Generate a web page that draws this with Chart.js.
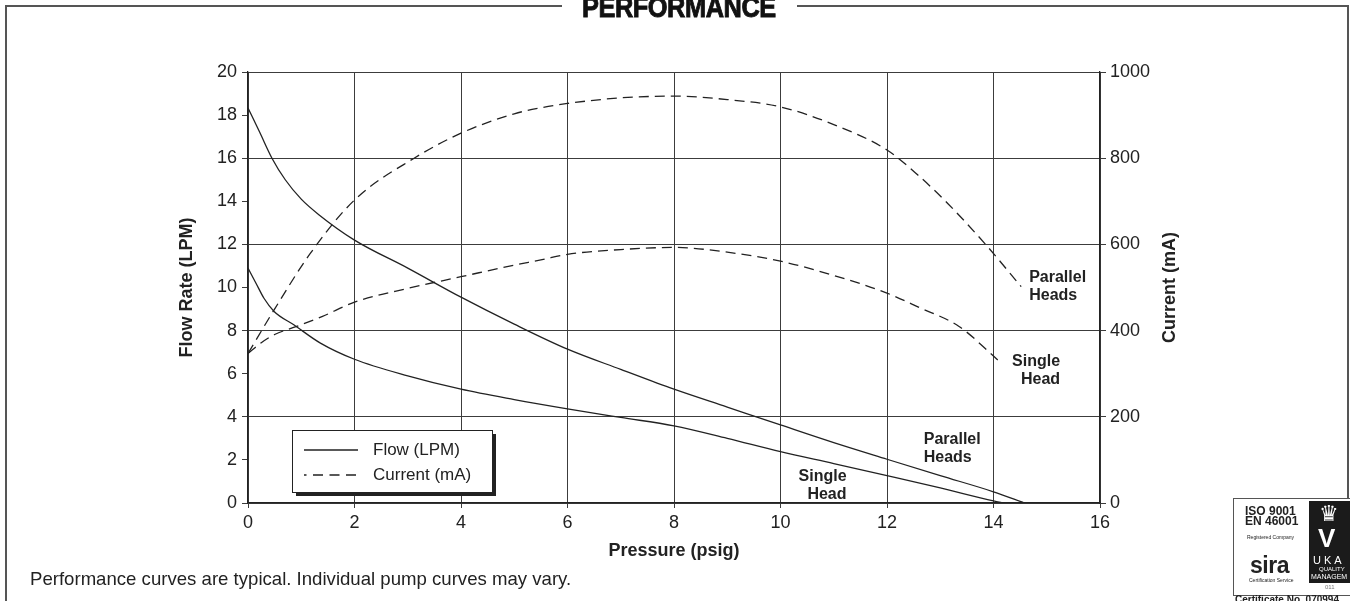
<!DOCTYPE html>
<html>
<head>
<meta charset="utf-8">
<script src="https://cdn.jsdelivr.net/npm/chart.js@4"></script>
<style>
    body { margin: 0; background: #fff; }
    #page { position: relative; width: 1350px; height: 601px; overflow: hidden; font-family: "Liberation Sans", Arial, sans-serif; color: #222; }
    #chart { position: absolute; left: 0; top: 0; }
    .rule { position: absolute; background: #555; }
    #title { position: absolute; left: 582px; top: -9px; font: bold 29px "Liberation Sans", Arial, sans-serif; white-space: nowrap; transform-origin: 0 0; letter-spacing: -0.5px; -webkit-text-stroke: 0.9px #111; color: #111; }
    #note { position: absolute; left: 30px; top: 570px; font-size: 18.6px; line-height: 18.6px; white-space: nowrap; }
    #logo { position: absolute; left: 1233px; top: 498px; width: 130px; height: 96px; border: 1px solid #555; background: #fff; }
    #logo div { position: absolute; white-space: nowrap; }
    #cert { position: absolute; left: 1235px; top: 594px; font: bold 10px "Liberation Sans", Arial, sans-serif; white-space: nowrap; }
</style>
</head>
<body>
<div id="page">
    <canvas id="chart" width="1350" height="601"></canvas>
    <div class="rule" style="left:5px; top:5px; width:557px; height:1.5px"></div>
    <div class="rule" style="left:797px; top:5px; width:552px; height:1.5px"></div>
    <div class="rule" style="left:5px; top:5px; width:1.5px; height:596px"></div>
    <div class="rule" style="left:1347px; top:5px; width:1.5px; height:493px"></div>
    <div id="title">PERFORMANCE</div>
    <div id="note">Performance curves are typical. Individual pump curves may vary.</div>
    <div id="logo">
        <div style="left:11px; top:8px; font: bold 12px/9.5px 'Liberation Sans', Arial; ">ISO 9001<br>EN 46001</div>
        <div style="left:13px; top:35px; font-size:5px;">Registered Company</div>
        <div style="left:16px; top:53px; font: bold 23px 'Liberation Sans', Arial; letter-spacing:-0.5px;">sira</div>
        <div style="left:15px; top:78px; font-size:5px;">Certification Service</div>
        <div style="left:75px; top:2px; width:60px; height:82px; background:#1b1b1b;"></div>
        <div style="left:85px; top:2px; color:#fff; font-size:22px;">&#9819;</div>
        <div style="left:84px; top:24px; color:#fff; font: bold 26px 'Liberation Sans', Arial;">V</div>
        <div style="left:79px; top:55px; color:#fff; font-size:11px; letter-spacing:3px;">UKA</div>
        <div style="left:85px; top:67px; color:#fff; font-size:6px;">QUALITY</div>
        <div style="left:77px; top:74px; color:#fff; font-size:7px;">MANAGEM</div>
        <div style="left:91px; top:85px; color:#777; font-size:6px;">011</div>
    </div>
    <div id="cert">Certificate No. 070994</div>
</div>
<script>
// flow rate curves (LPM against psig)
const flowParallelP = [ 0, 0.22, 0.45, 0.7, 1, 1.33, 2, 3, 4, 5, 6, 7, 8, 9, 10, 11, 12, 13, 14, 14.58 ];
const flowParallelLpm = [ 18.33, 17.2, 16.0, 15.0, 14.1, 13.38, 12.2, 10.9, 9.55, 8.3, 7.14, 6.2, 5.28, 4.45, 3.62, 2.8, 2.03, 1.27, 0.52, 0 ];
const flowSingleP = [ 0, 0.15, 0.3, 0.49, 0.86, 1.36, 2, 3, 4, 5, 6, 7, 8, 9, 10, 11, 12, 13, 14, 14.2 ];
const flowSingleLpm = [ 10.9, 10.2, 9.5, 8.89, 8.27, 7.42, 6.67, 5.9, 5.28, 4.8, 4.37, 3.97, 3.58, 3.0, 2.38, 1.83, 1.27, 0.7, 0.1, 0 ];

// current curves (mA against psig)
const currentParallelP = [ 0, 0.49, 1.17, 2, 3.12, 4, 5, 5.5, 6, 7, 8, 9, 10, 11, 12, 12.58, 13.14, 13.83, 14.52 ];
const currentParallelMa = [ 347, 448, 579, 703, 800, 858, 903, 917, 927, 940, 944, 936, 919, 878, 819, 761, 695, 603, 502 ];
const currentSingleP = [ 0, 0.25, 0.5, 0.9, 1.4, 2, 3, 4, 5, 5.5, 6, 7, 8, 9, 10, 11, 12, 12.58, 13.36, 14.08 ];
const currentSingleMa = [ 347, 372, 391, 409, 433, 466, 498, 525, 552, 564, 577, 588, 593, 582, 561, 528, 487, 455, 409, 332 ];

// axis ticks
const pressureTicks = [ 0, 2, 4, 6, 8, 10, 12, 14, 16 ];
const flowTicks = [ 0, 2, 4, 6, 8, 10, 12, 14, 16, 18, 20 ];
const currentTicks = [ 0, 200, 400, 600, 800, 1000 ];

// curve labels
const curveLabels = [ [ 'Parallel', 'Heads' ], [ 'Single', 'Head' ], [ 'Parallel', 'Heads' ], [ 'Single', 'Head' ] ];
const labelSpots = [
    { x: 14.67, y: 10.45, align: 'left' },
    { x: 15.25, y: 6.55, align: 'right' },
    { x: 12.69, y: 2.93, align: 'left' },
    { x: 11.24, y: 1.22, align: 'right' }
];

const INK = '#222';
const GRID = '#3c3c3c';
const FONT = '"Liberation Sans", Arial, sans-serif';

function pairs( xs, ys )
{
    return xs.map( ( v, i ) => ( { x: v, y: ys[ i ] } ) );
}

function curve( data, axis, dashed )
{
    return {
        data: data,
        yAxisID: axis,
        borderColor: INK,
        borderWidth: 1.3,
        borderDash: dashed ? [ 10, 6 ] : [],
        pointRadius: 0,
        fill: false,
        cubicInterpolationMode: 'monotone'
    };
}

function fixTicks( list )
{
    return function ( scale ) {
        scale.ticks = list.map( v => ( { value: v } ) );
    };
}

const plain = v => String( v );

const overlay = {
    id: 'overlay',
    afterDraw( chart )
    {
        const ctx = chart.ctx;
        const area = chart.chartArea;
        const x = chart.scales.x;
        const y = chart.scales.y;
        ctx.save();
        ctx.fillStyle = INK;

        // axis titles
        ctx.font = 'bold 18px ' + FONT;
        ctx.textAlign = 'center';
        ctx.textBaseline = 'middle';
        ctx.fillText( 'Pressure (psig)', ( area.left + area.right ) / 2, area.bottom + 48 );
        const midY = ( area.top + area.bottom ) / 2;
        [ [ 'Flow Rate (LPM)', area.left - 61 ], [ 'Current (mA)', area.right + 70 ] ].forEach( t => {
            ctx.save();
            ctx.translate( t[ 1 ], midY );
            ctx.rotate( -Math.PI / 2 );
            ctx.fillText( t[ 0 ], 0, 0 );
            ctx.restore();
        } );

        // curve labels
        ctx.font = 'bold 16px ' + FONT;
        curveLabels.forEach( ( lines, i ) => {
            const s = labelSpots[ i ];
            ctx.textAlign = s.align;
            lines.forEach( ( line, k ) => {
                ctx.fillText( line, x.getPixelForValue( s.x ), y.getPixelForValue( s.y ) + k * 17.5 );
            } );
        } );

        // legend box with shadow
        const lx = area.left + 44, ly = area.bottom - 73, lw = 200, lh = 62;
        ctx.fillStyle = INK;
        ctx.fillRect( lx + 4, ly + 4, lw, lh );
        ctx.fillStyle = '#fff';
        ctx.fillRect( lx, ly, lw, lh );
        ctx.strokeStyle = INK;
        ctx.lineWidth = 1;
        ctx.strokeRect( lx + 0.5, ly + 0.5, lw, lh );
        ctx.lineWidth = 1.5;
        [ [ 'Flow (LPM)', [] ], [ 'Current (mA)', [ 10, 6.5 ] ] ].forEach( ( e, k ) => {
            const ey = ly + 20 + k * 25;
            ctx.setLineDash( e[ 1 ] );
            ctx.lineDashOffset = k ? 7.5 : 0;
            ctx.beginPath();
            ctx.moveTo( lx + 12, ey );
            ctx.lineTo( lx + 66, ey );
            ctx.stroke();
            ctx.setLineDash( [] );
            ctx.font = '17px ' + FONT;
            ctx.textAlign = 'left';
            ctx.fillStyle = INK;
            ctx.fillText( e[ 0 ], lx + 81, ey );
        } );
        ctx.restore();
    }
};

document.addEventListener( 'DOMContentLoaded', function ()
{
    // squeeze the heading into its slot
    const title = document.getElementById( 'title' );
    title.style.transform = 'scaleX(' + ( 194 / title.offsetWidth ) + ')';

    new Chart( document.getElementById( 'chart' ), {
        type: 'line',
        data: {
            datasets: [
                curve( pairs( flowParallelP, flowParallelLpm ), 'y', false ),
                curve( pairs( flowSingleP, flowSingleLpm ), 'y', false ),
                curve( pairs( currentParallelP, currentParallelMa ), 'y1', true ),
                curve( pairs( currentSingleP, currentSingleMa ), 'y1', true )
            ]
        },
        options: {
            responsive: false,
            animation: false,
            events: [],
            devicePixelRatio: 1,
            layout: { padding: { top: 72, left: 0, right: 0, bottom: 0 } },
            plugins: {
                legend: { display: false },
                tooltip: { enabled: false }
            },
            scales: {
                x: {
                    type: 'linear',
                    min: 0,
                    max: 16,
                    afterBuildTicks: fixTicks( pressureTicks ),
                    afterFit: s => { s.height = 98; },
                    border: { color: INK, width: 1.3 },
                    grid: { color: GRID, lineWidth: 1, tickLength: 5, tickColor: GRID },
                    ticks: { color: INK, font: { family: FONT, size: 18 }, padding: 4, maxRotation: 0, callback: plain }
                },
                y: {
                    position: 'left',
                    min: 0,
                    max: 20,
                    afterBuildTicks: fixTicks( flowTicks ),
                    afterFit: s => { s.width = 248; },
                    border: { color: INK, width: 1.3 },
                    grid: {
                        color: c => ( c.tick && c.tick.value % 4 === 0 ) ? GRID : 'rgba(0,0,0,0)',
                        lineWidth: 1,
                        tickLength: 6,
                        tickColor: GRID
                    },
                    ticks: { color: INK, font: { family: FONT, size: 18 }, padding: 5, callback: plain }
                },
                y1: {
                    position: 'right',
                    min: 0,
                    max: 1000,
                    afterBuildTicks: fixTicks( currentTicks ),
                    afterFit: s => { s.width = 250; },
                    border: { color: INK, width: 1.3 },
                    grid: { drawOnChartArea: false, tickLength: 6, tickColor: GRID },
                    ticks: { color: INK, font: { family: FONT, size: 18 }, padding: 4, callback: plain }
                }
            }
        },
        plugins: [ overlay ]
    } );
} );
</script>
</body>
</html>
